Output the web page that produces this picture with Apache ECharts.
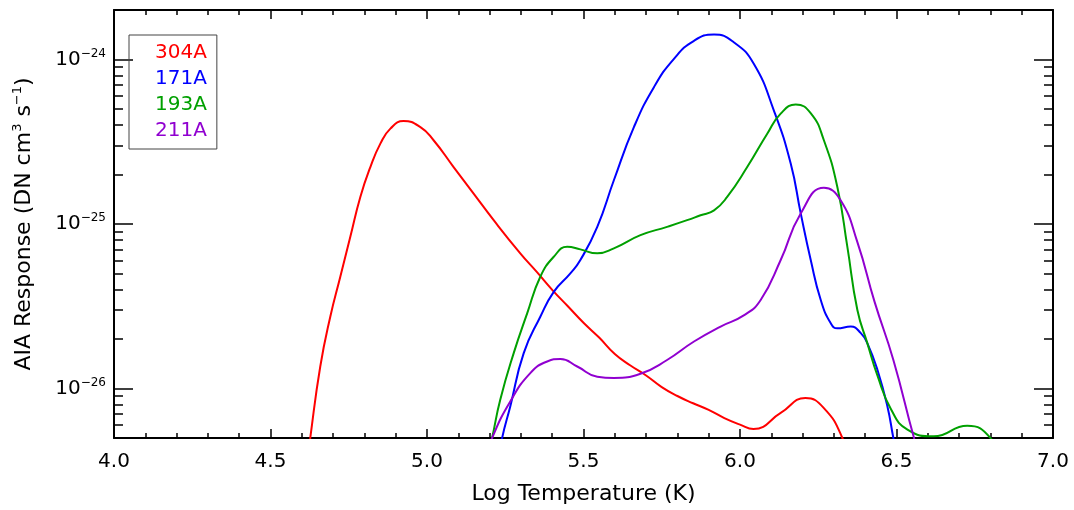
<!DOCTYPE html>
<html>
<head>
<meta charset="utf-8">
<script src="https://cdn.jsdelivr.net/npm/echarts@6/dist/echarts.min.js"></script>
<style>
  html, body { margin: 0; padding: 0; background: #fff; }
  #main { width: 1074px; height: 510px; }
</style>
</head>
<body>
<div id="main"></div>
<script>
// AIA temperature responses (log T, DN cm^5 s^-1)
var t304 = [4.60, 4.627, 4.659, 4.691, 4.723, 4.755, 4.787, 4.819, 4.851, 4.883, 4.925, 4.979, 5.021, 5.085,
            5.149, 5.213, 5.298, 5.35, 5.40, 5.45, 5.50, 5.55, 5.60, 5.65, 5.70, 5.75, 5.80, 5.85, 5.90, 5.95,
            6.00, 6.043, 6.13, 6.209, 6.268, 6.327, 6.38];
var r304 = [2.0e-27, 5.0e-27, 1.36e-26, 2.73e-26, 4.78e-26, 8.36e-26, 1.46e-25, 2.22e-25, 3.08e-25, 3.80e-25,
            4.23e-25, 3.88e-25, 3.23e-25, 2.22e-25, 1.53e-25, 1.055e-25, 6.63e-26, 5.13e-26, 3.98e-26, 3.16e-26,
            2.51e-26, 2.04e-26, 1.62e-26, 1.38e-26, 1.20e-26, 1.02e-26, 9.0e-27, 8.13e-27, 7.41e-27, 6.61e-27,
            6.03e-27, 5.67e-27, 7.10e-27, 8.75e-27, 7.60e-27, 5.0e-27, 2.5e-27];

var t171 = [5.20, 5.240, 5.266, 5.309, 5.362, 5.405, 5.458, 5.490, 5.544, 5.597, 5.661, 5.725, 5.789, 5.853,
            5.917, 5.981, 6.044, 6.108, 6.162, 6.194, 6.226, 6.258, 6.290, 6.311, 6.354, 6.386, 6.407, 6.439,
            6.471, 6.490, 6.52];
var r171 = [2.0e-27, 5.0e-27, 7.78e-27, 1.64e-26, 2.73e-26, 3.87e-26, 5.01e-26, 6.04e-26, 9.61e-26, 1.845e-25,
            3.88e-25, 6.79e-25, 1.01e-24, 1.30e-24, 1.42e-24, 1.27e-24, 9.42e-25, 4.91e-25, 2.33e-25, 1.16e-25,
            6.04e-26, 3.45e-26, 2.49e-26, 2.32e-26, 2.38e-26, 2.17e-26, 1.88e-26, 1.30e-26, 7.78e-27, 5.0e-27,
            2.6e-27];

var t193 = [5.15, 5.208, 5.234, 5.277, 5.320, 5.362, 5.405, 5.448, 5.490, 5.544, 5.597, 5.682, 5.767, 5.831,
            5.874, 5.917, 5.959, 6.023, 6.087, 6.130, 6.178, 6.227, 6.268, 6.311, 6.343, 6.375, 6.407, 6.439,
            6.482, 6.535, 6.619, 6.726, 6.80, 6.85];
var r193 = [1.6e-27, 5.0e-27, 8.54e-27, 1.64e-26, 2.86e-26, 4.78e-26, 6.32e-26, 7.26e-26, 7.01e-26, 6.63e-26,
            7.11e-26, 8.55e-26, 9.61e-26, 1.055e-25, 1.13e-25, 1.21e-25, 1.46e-25, 2.22e-25, 3.54e-25, 4.69e-25,
            5.33e-25, 4.69e-25, 3.23e-25, 1.68e-25, 7.26e-26, 3.00e-26, 1.88e-26, 1.20e-26, 7.5e-27, 5.62e-27,
            5.12e-27, 5.94e-27, 5.01e-27, 3.2e-27];

var t211 = [5.15, 5.208, 5.266, 5.330, 5.384, 5.426, 5.480, 5.544, 5.597, 5.682, 5.767, 5.853, 5.938, 6.012,
            6.066, 6.130, 6.194, 6.268, 6.321, 6.375, 6.43, 6.49, 6.556, 6.60];
var r211 = [2.5e-27, 5.0e-27, 8.34e-27, 1.24e-26, 1.46e-26, 1.51e-26, 1.36e-26, 1.18e-26, 1.16e-26, 1.23e-26,
            1.49e-26, 1.93e-26, 2.38e-26, 2.78e-26, 3.45e-26, 6.04e-26, 1.16e-25, 1.66e-25, 1.40e-25, 7.76e-26,
            3.36e-26, 1.49e-26, 5.0e-27, 2.63e-27];

var channels = ['304A', '171A', '193A', '211A'];
var colors = ['#ff0000', '#0000ff', '#00a000', '#9000d0'];

// y range and decade tick exponents
var yMin = 5e-27, yMax = 2e-24;
var yMajorExp = [-26, -25, -24];
var yMinorExp = [];
[-27, -26, -25].forEach(function (e) {
    for (var k = 2; k <= 9; k++) {
        var v = k * Math.pow(10, e);
        if (v > yMin && v < yMax) yMinorExp.push(Math.log10(v));
    }
});

var FONT = 'DejaVu Sans';
var black = '#000';

function mkSeries(name, ts, vals, color) {
    return {
        name: name,
        type: 'line',
        xAxisIndex: 0,
        yAxisIndex: 0,
        data: ts.map(function (t, i) { return [t, vals[i]]; }),
        smooth: 0.5,
        symbol: 'none',
        showSymbol: false,
        clip: true,
        lineStyle: { color: color, width: 2 },
        itemStyle: { color: color }
    };
}

function xAx(pos, showLabel) {
    var ax = {
        type: 'value', position: pos, min: 4, max: 7, interval: 0.5,
        splitLine: { show: false },
        axisLine: { show: true, onZero: false, lineStyle: { color: black, width: 2 } },
        axisTick: { show: true, inside: true, length: 9, lineStyle: { color: black, width: 1.5 } },
        minorTick: { show: true, splitNumber: 5, length: 5, lineStyle: { color: black, width: 1.5 } },
        axisLabel: { show: showLabel, color: black, fontFamily: FONT, fontSize: 20, margin: 14,
            formatter: function (v) { return v.toFixed(1); } }
    };
    if (showLabel) {
        ax.name = 'Log Temperature (K)';
        ax.nameLocation = 'middle';
        ax.nameGap = 45;
        ax.nameTextStyle = { color: black, fontFamily: FONT, fontSize: 22 };
    }
    return ax;
}

// tick-only axes laid over the log axis, in decade units
function tickAx(pos, exps, len, withLabel) {
    var ax = {
        type: 'value', position: pos, min: Math.log10(yMin), max: Math.log10(yMax),
        splitLine: { show: false },
        axisLine: { show: false },
        axisTick: { show: true, inside: true, length: len, customValues: exps,
            lineStyle: { color: black, width: 1.5 } },
        axisLabel: { show: false }
    };
    if (withLabel) {
        ax.axisLabel = {
            show: true, customValues: yMajorExp, margin: 8,
            formatter: function (v) {
                var e = Math.round(v);
                return '{b|10}{s|' + (e < 0 ? '\u2212' + (-e) : e) + '}';
            },
            rich: {
                b: { fontFamily: FONT, fontSize: 20, lineHeight: 24, color: black },
                s: { fontFamily: FONT, fontSize: 12, lineHeight: 12, color: black, verticalAlign: 'top' }
            }
        };
        ax.name = '{n|AIA Response (DN cm}{s|3}{n| s}{s|\u22121}{n|)}';
        ax.nameLocation = 'middle';
        ax.nameGap = 77;
        ax.nameTextStyle = {
            rich: {
                n: { fontFamily: FONT, fontSize: 22, lineHeight: 26, color: black },
                s: { fontFamily: FONT, fontSize: 13, lineHeight: 13, color: black, verticalAlign: 'top' }
            }
        };
    }
    return ax;
}

var chart = echarts.init(document.getElementById('main'), null, { renderer: 'canvas' });

var option = {
    animation: false,
    backgroundColor: '#fff',
    textStyle: { fontFamily: FONT },
    grid: { left: 114, right: 21, top: 10, bottom: 72, containLabel: false },
    legend: {
        left: 129, top: 35,
        orient: 'vertical',
        icon: 'none',
        itemWidth: 0, itemHeight: 22, itemGap: 4,
        padding: [7, 10, 7, 21],
        borderColor: '#444', borderWidth: 1,
        selectedMode: false,
        textStyle: { fontFamily: FONT, fontSize: 20, lineHeight: 22 },
        data: channels.map(function (c, i) {
            return { name: c, textStyle: { color: colors[i] } };
        })
    },
    xAxis: [xAx('bottom', true), xAx('top', false)],
    yAxis: [
        {
            type: 'log', logBase: 10, position: 'left', min: yMin, max: yMax,
            splitLine: { show: false }, minorTick: { show: false },
            axisLine: { show: true, onZero: false, lineStyle: { color: black, width: 2 } },
            axisTick: { show: false }, axisLabel: { show: false }
        },
        tickAx('left', yMajorExp, 19, true),
        tickAx('left', yMinorExp, 9, false),
        Object.assign(tickAx('right', yMajorExp, 19, false),
            { axisLine: { show: true, onZero: false, lineStyle: { color: black, width: 2 } } }),
        tickAx('right', yMinorExp, 9, false)
    ],
    series: [
        mkSeries(channels[0], t304, r304, colors[0]),
        mkSeries(channels[1], t171, r171, colors[1]),
        mkSeries(channels[2], t193, r193, colors[2]),
        mkSeries(channels[3], t211, r211, colors[3])
    ]
};

chart.setOption(option);
</script>
</body>
</html>
